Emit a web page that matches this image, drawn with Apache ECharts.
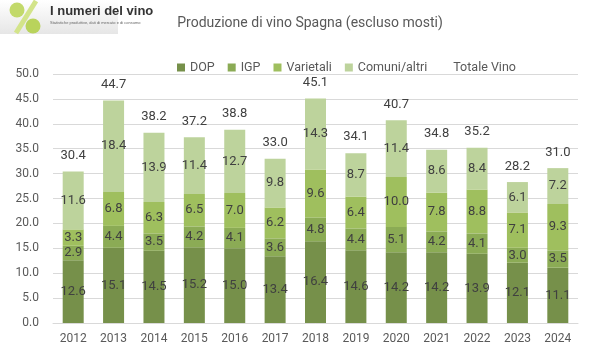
<!DOCTYPE html>
<html><head><meta charset="utf-8">
<script src="https://cdn.jsdelivr.net/npm/echarts@6/dist/echarts.min.js"></script>
<style>html,body{margin:0;padding:0;background:#fff}#c{width:611px;height:363px}</style>
</head><body><div id="c"></div>
<script>
const years = ['2012','2013','2014','2015','2016','2017','2018','2019','2020','2021','2022','2023','2024'];
const dop = [12.6, 15.1, 14.5, 15.2, 15.0, 13.4, 16.4, 14.6, 14.2, 14.2, 13.9, 12.1, 11.1];
const igp = [2.9, 4.4, 3.5, 4.2, 4.1, 3.6, 4.8, 4.4, 5.1, 4.2, 4.1, 3.0, 3.5];
const varietali = [3.3, 6.8, 6.3, 6.5, 7.0, 6.2, 9.6, 6.4, 10.0, 7.8, 8.8, 7.1, 9.3];
const comuni = [11.6, 18.4, 13.9, 11.4, 12.7, 9.8, 14.3, 8.7, 11.4, 8.6, 8.4, 6.1, 7.2];
const totale = [30.4, 44.7, 38.2, 37.2, 38.8, 33.0, 45.1, 34.1, 40.7, 34.8, 35.2, 28.2, 31.0];

const FONT = 'Roboto';
const segLabel = {show:true, position:'inside', color:'#404040', fontSize:13, fontFamily:FONT,
  formatter: p => p.value.toFixed(1)};
function bar(name, data, color){
  return {name, type:'bar', stack:'t', data, barWidth:21, itemStyle:{color}, label:segLabel};
}
const chart = echarts.init(document.getElementById('c'), null, {renderer:'canvas'});
chart.setOption({
  animation:false,
  title:{text:'Produzione di vino Spagna (escluso mosti)', left:305, top:11, textAlign:'center',
    textStyle:{fontSize:14, fontWeight:'normal', color:'#595959', fontFamily:FONT}},
  legend:{top:56, left:172, itemWidth:8, itemHeight:8, itemGap:13, icon:'rect',
    textStyle:{color:'#595959', fontSize:12.5, fontFamily:FONT},
    data:[{name:'DOP'},{name:'IGP'},{name:'Varietali'},{name:'Comuni/altri'},
      {name:'Totale Vino', icon:'rect', itemStyle:{color:'rgba(0,0,0,0)'}}]},
  grid:{left:53, right:33, top:74, bottom:40},
  xAxis:{type:'category', data:years,
    axisLine:{lineStyle:{color:'#d9d9d9'}}, axisTick:{show:false},
    axisLabel:{color:'#595959', fontSize:12, fontFamily:FONT, margin:10}},
  yAxis:{type:'value', min:0, max:50, interval:5,
    axisLabel:{color:'#595959', fontSize:12, fontFamily:FONT, margin:14, formatter:v=>v.toFixed(1)},
    splitLine:{lineStyle:{color:'#d9d9d9'}}},
  series:[
    bar('DOP', dop, '#76904a'),
    bar('IGP', igp, '#8bab55'),
    bar('Varietali', varietali, '#9fbf5e'),
    bar('Comuni/altri', comuni, '#bdd39c'),
    {name:'Totale Vino', type:'line', data:totale, symbol:'circle', symbolSize:1, lineStyle:{opacity:0}, itemStyle:{color:'rgba(0,0,0,0)'},
      label:{show:true, position:'top', distance:9, color:'#404040', fontSize:13, fontFamily:FONT,
        formatter:p=>p.value.toFixed(1)}}
  ],
  graphic:[
    {type:'rect', shape:{x:0,y:0,width:118,height:34}, style:{fill:new echarts.graphic.LinearGradient(0,0,0,1,[{offset:0,color:'#ffffff'},{offset:1,color:'#e6e6e6'}])}, silent:true},
    {type:'circle', shape:{cx:17,cy:10,r:7.5}, style:{fill:'#c2d96a'}},
    {type:'line', shape:{x1:36,y1:1,x2:16,y2:33}, style:{stroke:'#d3e48a', lineWidth:5}},
    {type:'circle', shape:{cx:33,cy:26,r:7.5}, style:{fill:'#b9d35c'}},
    {type:'text', left:50, top:5, style:{text:'I numeri del vino', fontSize:13, fontWeight:'bold', fill:'#333333', fontFamily:'Liberation Sans'}},
    {type:'text', left:50, top:21, style:{text:'Statistiche produttive, dati di mercato e di consumo', fontSize:4, fill:'#666666', fontFamily:'Liberation Sans'}}
  ]
});
</script></body></html>
